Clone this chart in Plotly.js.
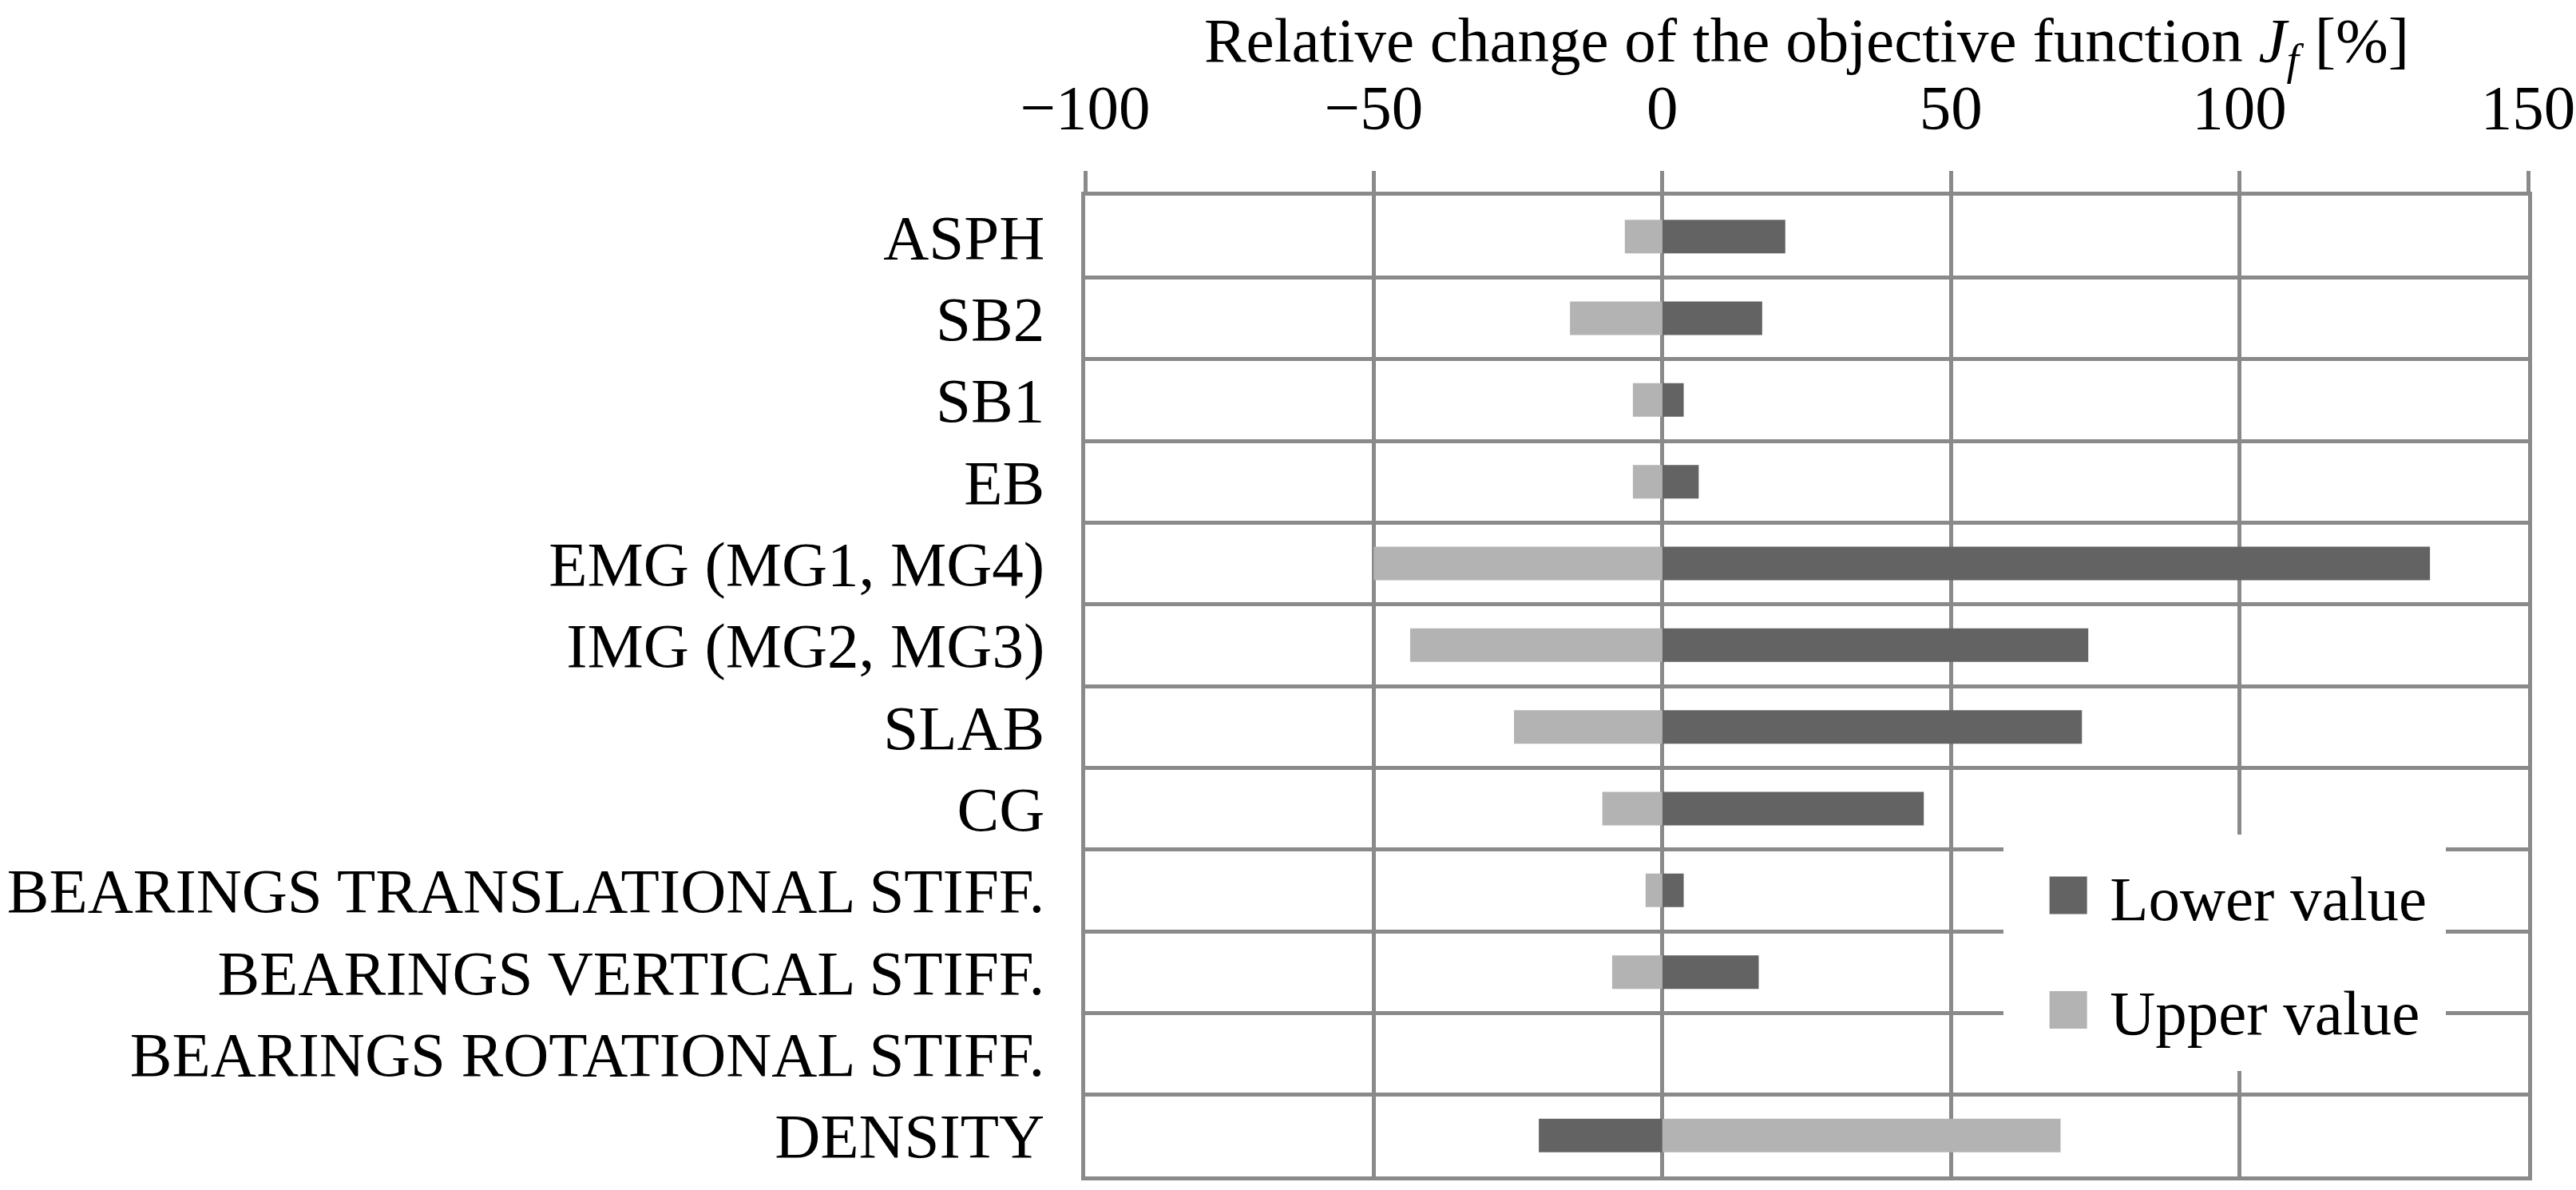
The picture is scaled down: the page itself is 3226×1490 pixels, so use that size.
<!DOCTYPE html>
<html>
<head>
<meta charset="utf-8">
<script src="https://cdn.plot.ly/plotly-3.0.1.min.js"></script>
<style>html,body{margin:0;padding:0;background:#fff;}</style>
</head>
<body>
<div id="chart" style="width:3226px;height:1490px;"></div>
<script>
const categories = ['ASPH','SB2','SB1','EB','EMG (MG1, MG4)','IMG (MG2, MG3)','SLAB','CG',
  'BEARINGS TRANSLATIONAL STIFF.','BEARINGS VERTICAL STIFF.','BEARINGS ROTATIONAL STIFF.','DENSITY'];
const lowerValue = [21.3, 17.3, 3.7, 6.3, 133.0, 73.8, 72.7, 45.3, 3.7, 16.7, 0, -21.4];
const upperValue = [-6.5, -16.0, -5.1, -5.1, -50.0, -43.7, -25.7, -10.4, -2.9, -8.7, 0, 69.0];
const xTickVals = [-100, -50, 0, 50, 100, 150];

const FONT = 'Liberation Serif, Times New Roman, serif';
const FS = 79;
const GRID = '#8a8a8a';

const traces = [
  {type:'bar', orientation:'h', name:'Lower value', y:categories, x:lowerValue,
   marker:{color:'#636363'}, width:0.41, legendgroup:'a'},
  {type:'bar', orientation:'h', name:'Upper value', y:categories, x:upperValue,
   marker:{color:'#b3b3b3'}, width:0.41, legendgroup:'b'}
];

const layout = {
  width:3226, height:1490,
  margin:{l:1359, r:60, t:245, b:17},
  paper_bgcolor:'#fff', plot_bgcolor:'#fff',
  font:{family:FONT, size:FS, color:'#000'},
  title:{text:'Relative change of the objective function <i>J<sub>f</sub></i> [%]',
    font:{family:FONT, size:FS, color:'#000'},
    xref:'paper', x:0.5, xanchor:'center',
    yref:'container', y:0.967, yanchor:'middle'},
  barmode:'overlay',
  showlegend:true,
  legend:{x:0.6365, y:0.3485, xanchor:'left', yanchor:'top', bgcolor:'#fff',
    bordercolor:'#fff', borderwidth:18,
    font:{family:FONT, size:FS, color:'#000'}, itemwidth:105, tracegroupgap:38,
    entrywidth:623, entrywidthmode:'pixels',
    traceorder:'grouped', itemclick:false},
  xaxis:{side:'top', range:[-100,150], tickvals:xTickVals,
    showgrid:true, gridcolor:GRID, gridwidth:5,
    zeroline:false, showline:true, linecolor:GRID, linewidth:5, mirror:true,
    ticks:'outside', ticklen:26, tickwidth:5, tickcolor:GRID,
    ticklabelstandoff:21,
    tickfont:{family:FONT, size:FS, color:'#000'},
    fixedrange:true},
  yaxis:{type:'category', categoryorder:'array', categoryarray:categories,
    autorange:'reversed', tickson:'boundaries', showgrid:true, gridcolor:GRID, gridwidth:5,
    showline:true, linecolor:GRID, linewidth:5, mirror:true, ticks:'',
    ticklabelstandoff:30,
    tickfont:{family:FONT, size:FS, color:'#000'}, fixedrange:true}
};

Plotly.newPlot('chart', traces, layout, {displayModeBar:false, staticPlot:true}).then(function(){
  var dx = 63, h = 23.5;
  document.querySelectorAll('.legend .legendpoints path').forEach(function(p){
    p.setAttribute('d', 'M' + (dx + h) + ',' + h + 'H' + (dx - h) + 'V' + (-h) + 'H' + (dx + h) + 'Z');
    p.removeAttribute('transform');
  });
});
</script>
</body>
</html>
